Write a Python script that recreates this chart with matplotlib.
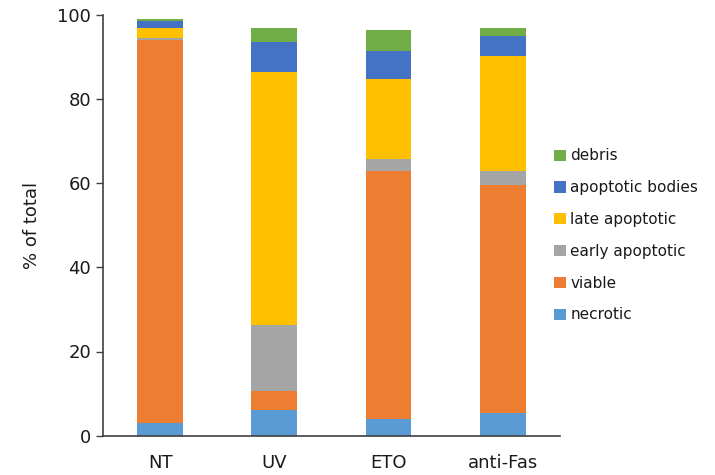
import numpy as np
import matplotlib.pyplot as plt

# Distribución de poblaciones celulares por tratamiento (% del total)
treatments = ["NT", "UV", "ETO", "anti-Fas"]

necrotic = [3.0, 6.2, 3.9, 5.3]
viable = [91.1, 4.4, 59.0, 54.2]
early_apoptotic = [0.4, 15.7, 2.8, 3.4]
late_apoptotic = [2.5, 60.2, 19.1, 27.4]
apoptotic_bodies = [1.6, 7.2, 6.7, 4.8]
debris = [0.4, 3.3, 4.9, 1.9]

series = [
    ("necrotic", necrotic, "#5B9BD5"),
    ("viable", viable, "#ED7D31"),
    ("early apoptotic", early_apoptotic, "#A5A5A5"),
    ("late apoptotic", late_apoptotic, "#FFC000"),
    ("apoptotic bodies", apoptotic_bodies, "#4472C4"),
    ("debris", debris, "#70AD47"),
]

plt.rcParams["font.family"] = ["DejaVu Sans"]

fig = plt.figure(figsize=(7.15, 4.75), dpi=100)
ax = fig.add_axes([0.144, 0.083, 0.639, 0.885])

x = np.arange(len(treatments))
bottom = np.zeros(len(treatments))
handles = []
for label, values, color in series:
    bars = ax.bar(x, values, width=0.4, bottom=bottom, color=color,
                  label=label, linewidth=0)
    handles.append(bars)
    bottom += np.array(values)

ax.set_xlim(-0.5, 3.5)
ax.set_ylim(0, 100)
ax.set_yticks([0, 20, 40, 60, 80, 100])
ax.set_xticks(x)
ax.set_xticklabels(treatments, fontsize=13, color="#1a1a1a")
ax.tick_params(axis="y", labelsize=13, colors="#1a1a1a", length=5,
               width=1, direction="out", color="#404040")
ax.tick_params(axis="x", length=0, pad=13)
ax.set_ylabel("% of total", fontsize=13, color="#1a1a1a", labelpad=12)

for side in ["top", "right"]:
    ax.spines[side].set_visible(False)
for side in ["left", "bottom"]:
    ax.spines[side].set_color("#404040")
    ax.spines[side].set_linewidth(1.2)

leg = ax.legend(handles[::-1], [s[0] for s in series][::-1],
                loc="center left", bbox_to_anchor=(0.958, 0.476),
                frameon=False, fontsize=11, handlelength=0.75,
                handleheight=0.75, handletextpad=0.3, labelspacing=1.1)
for text in leg.get_texts():
    text.set_color("#1a1a1a")

fig.savefig("out.png", dpi=100)
